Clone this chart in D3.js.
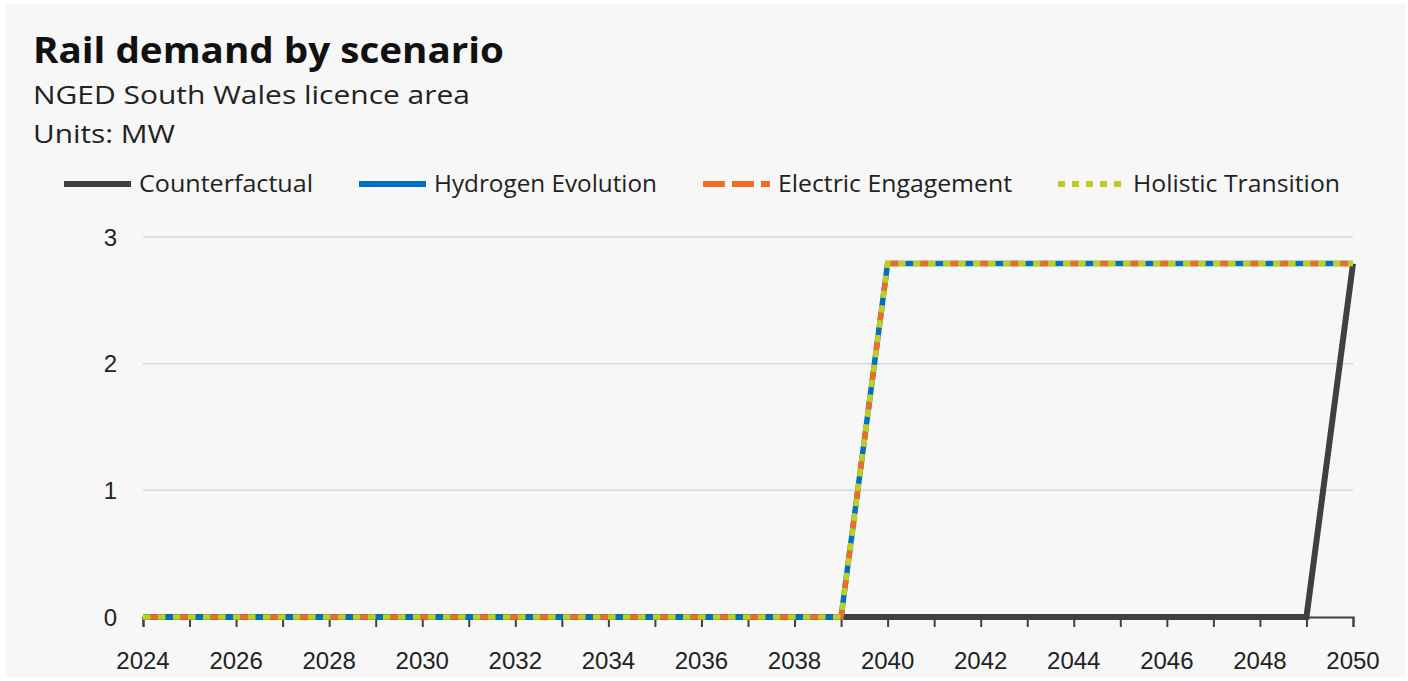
<!DOCTYPE html>
<html><head><meta charset="utf-8">
<script src="https://cdn.jsdelivr.net/npm/d3@7"></script>
<style>
html,body{margin:0;padding:0;background:#fff;}
svg{display:block;}
</style></head>
<body>
<svg id="c" width="1408" height="681"></svg>
<script>
const years = d3.range(2024, 2051);
const counterfactual = [0,0,0,0,0,0,0,0,0,0,0,0,0,0,0,0,0,0,0,0,0,0,0,0,0,0,2.79];
const hydrogenEvolution = [0,0,0,0,0,0,0,0,0,0,0,0,0,0,0,0,2.79,2.79,2.79,2.79,2.79,2.79,2.79,2.79,2.79,2.79,2.79];
const electricEngagement = [0,0,0,0,0,0,0,0,0,0,0,0,0,0,0,0,2.79,2.79,2.79,2.79,2.79,2.79,2.79,2.79,2.79,2.79,2.79];
const holisticTransition = [0,0,0,0,0,0,0,0,0,0,0,0,0,0,0,0,2.79,2.79,2.79,2.79,2.79,2.79,2.79,2.79,2.79,2.79,2.79];
const seriesNames = ["Counterfactual","Hydrogen Evolution","Electric Engagement","Holistic Transition"];
const yTicks = [0,1,2,3];
const xTickLabels = d3.range(2024, 2051, 2);

const svg = d3.select("#c");
const font = "'Liberation Sans', Arial, sans-serif";
const tfont = "'Open Sans', 'Liberation Sans', sans-serif";

svg.append("rect").attr("x",6).attr("y",4).attr("width",1400).attr("height",673).attr("fill","#f7f7f7");

function fitText(sel, w){ sel.attr("textLength", w).attr("lengthAdjust","spacingAndGlyphs"); }

svg.append("text").attr("x",33).attr("y",63).attr("font-family",tfont).attr("font-weight",700)
  .attr("font-size",35).attr("fill","#111").text("Rail demand by scenario").call(fitText,471);
svg.append("text").attr("x",33).attr("y",104).attr("font-family",tfont)
  .attr("font-size",25).attr("fill","#222").text("NGED South Wales licence area").call(fitText,437);
svg.append("text").attr("x",33).attr("y",143).attr("font-family",tfont)
  .attr("font-size",25).attr("fill","#222").text("Units: MW").call(fitText,142);

const x = d3.scaleLinear().domain([2024,2050]).range([143,1353]);
const y = d3.scaleLinear().domain([0,3]).range([617,237]);

// gridlines
svg.append("g").selectAll("line").data(yTicks.filter(d=>d>0)).join("line")
  .attr("x1",x(2024)).attr("x2",x(2050)).attr("y1",d=>y(d)).attr("y2",d=>y(d))
  .attr("stroke","#d9d9d9").attr("stroke-width",1.5);

// y labels
svg.append("g").selectAll("text").data(yTicks).join("text")
  .attr("x",117).attr("y",d=>y(d)).attr("dy","0.36em").attr("text-anchor","end")
  .attr("font-family",font).attr("font-size",24).attr("fill","#222").text(d=>d);

// x axis
const xAxis = d3.axisBottom(x).tickValues(years).tickSize(10).tickFormat("");
const gx = svg.append("g").attr("transform",`translate(0,${y(0)})`).call(xAxis);
gx.select(".domain").attr("stroke","#404040").attr("stroke-width",2);
gx.selectAll(".tick line").attr("stroke","#404040").attr("stroke-width",2);
svg.append("g").selectAll("text").data(xTickLabels).join("text")
  .attr("x",d=>x(d)).attr("y",669).attr("text-anchor","middle")
  .attr("font-family",font).attr("font-size",24).attr("fill","#222").text(d=>d);

const line = vals => d3.line().x((d,i)=>x(years[i])).y(d=>y(d))(vals);

svg.append("path").attr("d",line(counterfactual)).attr("fill","none")
  .attr("stroke","#404040").attr("stroke-width",6).attr("stroke-linejoin","miter");
svg.append("path").attr("d",line(hydrogenEvolution)).attr("fill","none")
  .attr("stroke","#0070c0").attr("stroke-width",5.5);
svg.append("path").attr("d",line(electricEngagement)).attr("fill","none")
  .attr("stroke","#f26b23").attr("stroke-width",5.5).attr("stroke-dasharray","7.5,22.5").attr("stroke-dashoffset",-7.5);
svg.append("path").attr("d",line(holisticTransition)).attr("fill","none")
  .attr("stroke","#c2cd23").attr("stroke-width",5.5).attr("stroke-dasharray","7.5,7.5");

// legend
const legend = [
  {name:seriesNames[0], sx:64, tx:139, tw:174, color:"#404040", dash:null},
  {name:seriesNames[1], sx:359, tx:434, tw:223, color:"#0070c0", dash:null},
  {name:seriesNames[2], sx:703, tx:778, tw:234, color:"#f26b23", dash:"22,7"},
  {name:seriesNames[3], sx:1058, tx:1133, tw:207, color:"#c2cd23", dash:"7,7"}
];
const lg = svg.append("g");
legend.forEach(l=>{
  lg.append("line").attr("x1",l.sx).attr("x2",l.sx+67).attr("y1",184).attr("y2",184)
    .attr("stroke",l.color).attr("stroke-width",6).attr("stroke-dasharray",l.dash);
  lg.append("text").attr("x",l.tx).attr("y",192).attr("font-family",tfont).attr("font-size",23)
    .attr("fill","#222").text(l.name).call(fitText,l.tw);
});
</script>
</body></html>
